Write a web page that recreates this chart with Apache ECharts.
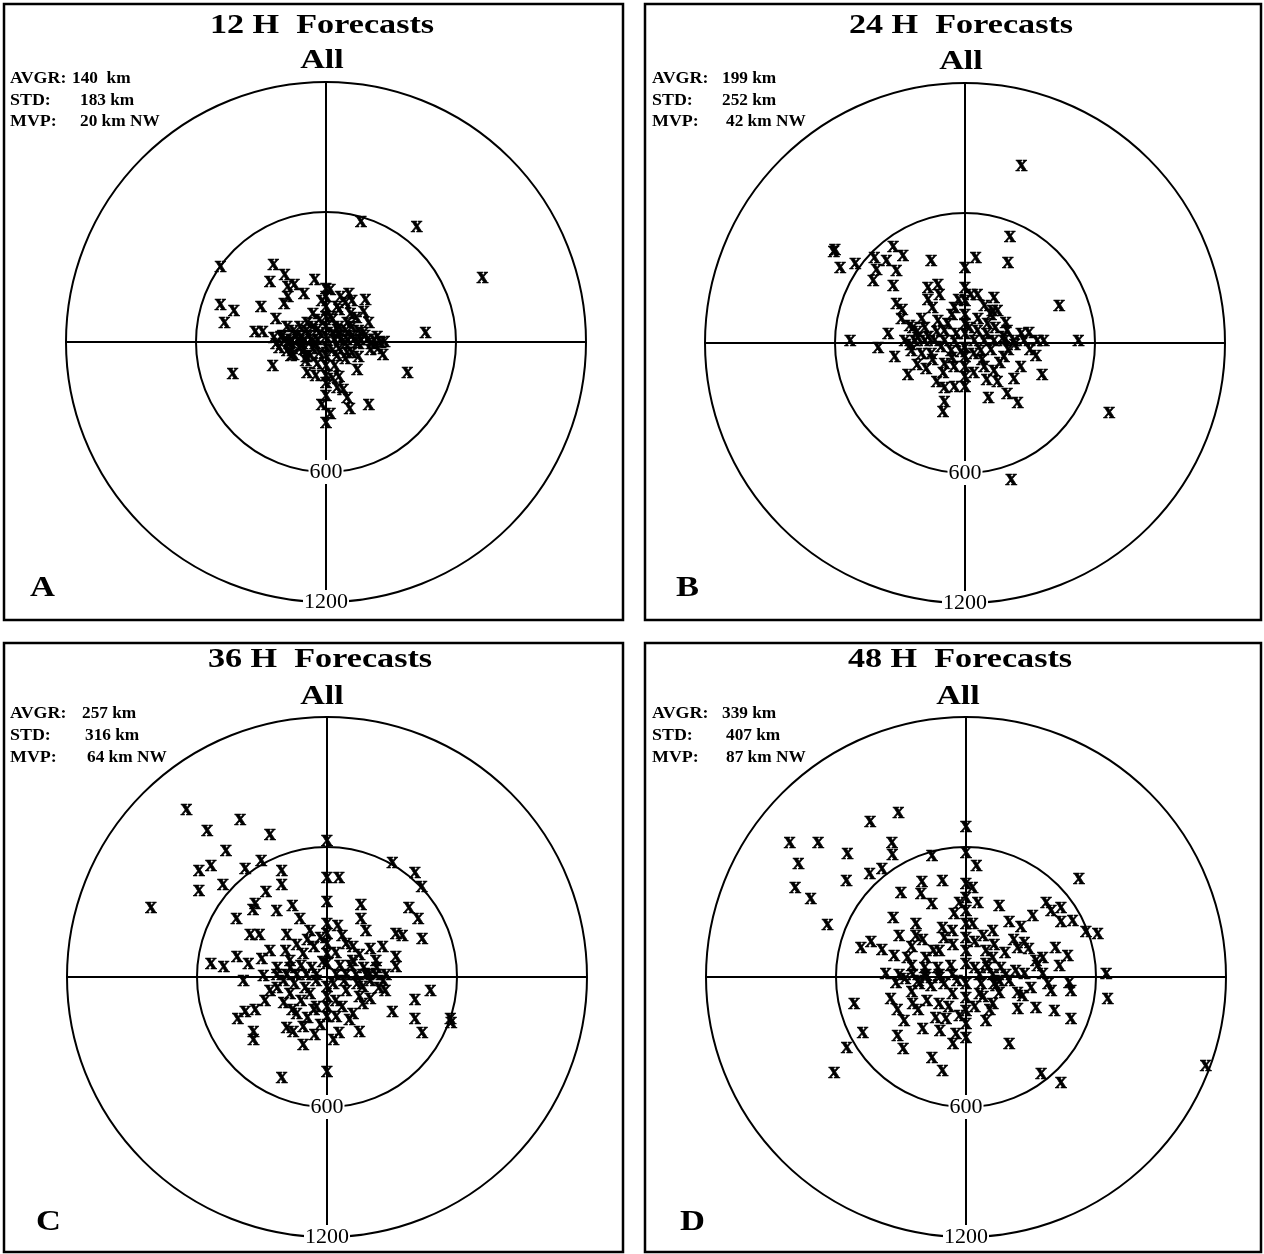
<!DOCTYPE html>
<html><head><meta charset="utf-8">
<script src="https://cdn.jsdelivr.net/npm/echarts@6/dist/echarts.min.js"></script>
<style>html,body{margin:0;padding:0;background:#fff}#c{width:1264px;height:1254px}</style>
</head><body><div id="c"></div>
<script>
// Panel titles and statistics
const panelTitles = ['12 H  Forecasts', '24 H  Forecasts', '36 H  Forecasts', '48 H  Forecasts'];
const panelLetters = ['A', 'B', 'C', 'D'];
const statLabels = ['AVGR:', 'STD:', 'MVP:'];
const statsA = ['140  km', '183 km', '20 km NW'];
const statsB = ['199 km', '252 km', '42 km NW'];
const statsC = ['257 km', '316 km', '64 km NW'];
const statsD = ['339 km', '407 km', '87 km NW'];
const ringValues = [600, 1200];

// Forecast position errors, [east km, north km]
const errorsA = [[162,543],[419,523],[722,286],[-487,337],[-242,344],[-259,268],[-190,298],[-52,278],[-177,245],[-147,252],
[-101,214],[-177,199],[-487,161],[-425,133],[-468,80],[-300,153],[-193,165],[-231,95],[-327,38],[-292,38],
[459,31],[-430,-158],[-246,-122],[376,-153],[263,-69],[251,-15],[182,184],[174,130],[106,214],[67,199],
[197,76],[144,-138],[197,-298],[110,-321],[98,-268],[52,-222],[0,-382],[0,-260],[0,-199],[-86,-153],
[-47,-168],[-93,-99],[-162,-76],[-216,-38],[-208,15],
[0,237],[0,199],[0,153],[0,107],[0,61],[0,15],[0,-31],[0,-76],[0,-122],[0,-168],
[-193,0],[-162,0],[-131,0],[-101,0],[-70,0],[-40,0],[37,0],[67,0],[98,0],[128,0],[159,0],[190,0],[220,0],
[52,153],[98,76],[-86,76],[-40,46],[52,46],[98,-61],[-101,-46],[-162,-15],[174,31],[205,-46],[236,15],[52,-76],[-70,-76],[21,107],[113,122],[144,-15],[-116,15],
[-200,20],[-170,-20],[-140,20],[-110,-20],[-80,20],[-50,-20],[60,20],[90,-20],[120,20],[150,-20],[180,20],[210,-20],
[-180,60],[-150,40],[-120,60],[-90,40],[-60,60],[-30,30],[30,30],[60,60],[90,40],[120,60],[150,40],
[-180,-50],[-150,-70],[-120,-40],[-90,-80],[-60,-40],[-30,-60],[30,-50],[60,-40],[90,-90],[120,-60],[150,-80],
[-30,90],[30,90],[-60,120],[60,140],[90,170],[120,180],[140,100],[-20,180],[20,230],[40,-120],[-40,-110],
[30,-180],[60,-170],[80,-230],[-20,-300],[20,-340],[240,-40],[270,-10],[-230,-20],[-240,10]];

const errorsB = [[261,809],[208,481],[199,359],[50,385],[0,336],[-156,370],[435,160],[524,0],[363,0],[333,0],
[295,38],[328,-69],[356,-156],[257,-122],[226,-176],[195,-247],[244,-286],[108,-263],[666,-333],[214,-641],
[-102,-328],[-95,-282],[-95,-217],[-49,-214],[0,-214],[0,-168],[-263,-156],[-179,-130],[-324,-76],[-400,-31],
[-354,31],[-530,0],[-606,412],[-600,420],[-576,336],[-507,354],[-418,385],[-362,370],[-331,435],[-286,394],[-316,324],
[-408,328],[-423,278],[-331,255],[-316,171],[-290,145],[-293,99],[-255,69],[-171,244],[-125,260],[-171,191],
[-118,214],[27,214],[58,214],[134,199],[127,137],[188,84],[195,46],[104,76],[-49,153],[-125,92],[-186,61],
[0,244],[0,183],[0,122],[0,76],[0,31],[0,-31],[0,-76],[0,-122],
[-278,0],[-232,0],[-186,0],[-140,0],[-95,0],[-49,0],[43,0],[89,0],[134,0],[180,0],[226,0],[272,0],
[-95,46],[58,46],[-64,-46],[73,-46],[89,-122],[134,-137],[180,-76],[-156,-61],[-247,-46],[-217,15],[-95,-107],
[-250,-20],[-220,40],[-200,-60],[-170,20],[-150,-90],[-130,40],[-110,-30],[-80,80],[-60,-80],[-40,30],
[-20,-50],[20,60],[40,-60],[60,100],[80,-90],[100,30],[120,-40],[140,60],[160,-100],[180,20],
[200,-40],[120,120],[90,160],[150,140],[-60,120],[-30,190],[-200,100],[-240,60],[-150,150],[-100,-150],
[-50,-120],[40,-150],[100,-180],[150,-190],[-130,-190],[-220,-110],[230,-20],[260,30],[300,-40]];

const errorsC = [[-648,760],[-400,715],[-553,664],[-263,646],[-466,573],[-591,478],[-535,501],[-377,489],[-304,524],[-591,387],
[-480,414],[-812,307],[-209,481],[-209,417],[0,619],[0,447],[55,447],[0,336],[302,516],[406,470],
[437,405],[-281,383],[-331,328],[-342,302],[-418,257],[-232,295],[-159,318],[-125,257],[-354,185],[-312,185],
[-186,185],[157,325],[157,257],[180,203],[50,226],[379,310],[421,260],[318,188],[348,180],[440,165],
[257,127],[318,81],[318,35],[-263,111],[-301,73],[-362,50],[-415,81],[-476,35],[-535,50],[-385,-29],
[-293,-3],[269,-75],[478,-72],[406,-115],[302,-171],[406,-202],[440,-270],[570,-202],[574,-224],[150,-263],
[55,-270],[104,-209],[165,-133],[-110,-324],[-186,-247],[-156,-263],[-57,-278],[-339,-263],[-339,-301],[-412,-202],
[-377,-171],[-331,-163],[-286,-118],[-263,-72],[-209,-476],[0,-446],[0,-194],
[0,234],[0,188],[0,142],[0,96],[0,50],[0,-57],[0,-102],[0,-148],
[-232,0],[-186,0],[-140,0],[-95,0],[-49,0],[43,0],[89,0],[134,0],[180,0],[226,0],[272,0],
[-79,203],[89,142],[-110,96],[119,66],[-171,66],[-79,-87],[89,-72],[-171,-87],[-49,-148],[165,-57],[226,66],[-140,-179],[43,-194],[196,5],
[-230,30],[-200,-30],[-170,30],[-150,-40],[-120,40],[-100,-60],[-70,30],[-50,-30],[-20,60],[30,-40],
[60,40],[80,-30],[110,40],[140,-40],[170,30],[200,-30],[230,30],[260,-30],[-60,130],[-30,170],
[40,100],[70,180],[120,130],[150,90],[200,120],[-140,140],[-90,160],[-190,110],[-230,-60],[-200,-130],
[-160,-160],[-120,-120],[-90,-200],[-60,-160],[-30,-230],[40,-120],[70,-150],[120,-180],[150,-100],[200,-110],
[240,-60],[-110,-240],[30,-300]];

const errorsD = [[-554,1081],[-311,747],[-442,708],[-813,611],[-682,611],[-773,511],[-788,403],[-716,350],[-639,231],[-547,557],
[-551,434],[-342,607],[-339,554],[-388,488],[-444,465],[0,681],[0,565],[49,504],[-157,550],[521,442],
[0,419],[54,334],[154,316],[-108,434],[-203,427],[-208,373],[-157,326],[-300,380],[-336,265],[-231,234],
[-231,180],[-308,180],[-54,280],[-108,216],[370,334],[439,311],[308,273],[393,296],[493,249],[439,246],
[554,196],[608,191],[200,246],[254,219],[123,203],[270,149],[239,126],[413,126],[470,88],[354,80],
[323,65],[431,42],[647,3],[654,-112],[477,-35],[485,-74],[393,-74],[354,3],[270,3],[239,-82],
[262,-97],[239,-159],[323,-151],[408,-166],[485,-205],[92,-213],[200,-317],[123,-136],[154,-82],[1106,-420],
[347,-459],[439,-497],[-516,-136],[-477,-266],[-550,-336],[-608,-451],[-485,126],[-439,154],[-388,114],[-331,88],
[-270,80],[-370,3],[-323,-35],[-347,-112],[-316,-163],[-285,-213],[-316,-282],[-290,-343],[-200,-251],[-157,-382],
[-108,-444],[-46,-274],[-92,-205],[-246,-136],[-216,-43],[-185,80],[-123,111],
[0,357],[0,296],[0,234],[0,172],[0,111],[0,49],[0,-43],[0,-105],[0,-166],[0,-228],[0,-290],
[-308,0],[-246,0],[-185,0],[-123,0],[-62,0],[62,0],[123,0],[185,0],
[92,111],[92,49],[154,-28],[-123,-12],[-185,-12],[-62,-89],[-123,-136],[62,-89],[123,80],[-62,203],[31,234],
[-280,-20],[-250,40],[-220,-30],[-190,30],[-160,-50],[-130,30],[-100,-40],[-70,40],[-40,-30],[40,30],
[70,-40],[100,30],[130,-40],[160,30],[200,-30],[230,20],[-250,-80],[-220,-160],[-180,-120],[-140,-200],
[-120,-260],[-80,-150],[-60,-320],[-30,-190],[40,-150],[80,-100],[110,-160],[140,-50],[-250,130],[-200,160],
[-150,110],[-100,170],[-60,140],[40,150],[80,180],[130,140],[180,100],[220,160],[290,120],[330,40],
[380,-40],[300,-60],[-30,330],[30,400]];

const allErrors = [errorsA, errorsB, errorsC, errorsD];
const allStats = [statsA, statsB, statsC, statsD];

// Layout (pixels)
const layout = [
  {box:[4,4,619,616], center:[326,342], title:[322,26], sub:[322,61], statX:10, valX:[72,80,80], statY:[79,101,122], letter:[30,588]},
  {box:[645,4,616,616], center:[965,343], title:[961,26], sub:[961,62], statX:652, valX:[722,722,726], statY:[79,101,122], letter:[676,588]},
  {box:[4,643,619,609], center:[327,977], title:[320,660], sub:[322,697], statX:10, valX:[82,85,87], statY:[714,736,758], letter:[36,1222]},
  {box:[645,643,616,609], center:[966,977], title:[960,660], sub:[958,697], statX:652, valX:[722,726,726], statY:[714,736,758], letter:[680,1222]}
];
const RADIUS_PX = 260;
const SERIF = '"Liberation Serif", "Times New Roman", serif';

function toPolar(p) {
  const r = Math.sqrt(p[0] * p[0] + p[1] * p[1]);
  let a = Math.atan2(p[1], p[0]) * 180 / Math.PI;
  if (a < 0) a += 360;
  return [r, a];
}

const polar = [], angleAxis = [], radiusAxis = [], series = [], graphic = [];
layout.forEach((L, i) => {
  polar.push({center: L.center, radius: RADIUS_PX});
  angleAxis.push({
    polarIndex: i, type: 'value', min: 0, max: 360, interval: 90, startAngle: 0, clockwise: false,
    axisLine: {show: false}, axisTick: {show: false}, axisLabel: {show: false},
    splitLine: {show: true, lineStyle: {color: '#000', width: 2}}
  });
  radiusAxis.push({
    polarIndex: i, type: 'value', min: 0, max: 1200, interval: 600,
    axisLine: {show: false}, axisTick: {show: false}, axisLabel: {show: false},
    splitLine: {show: true, lineStyle: {color: '#000', width: 2}}
  });
  series.push({
    type: 'scatter', coordinateSystem: 'polar', polarIndex: i,
    symbol: 'circle', symbolSize: 2, itemStyle: {color: 'rgba(0,0,0,0)'},
    silent: true, animation: false,
    data: allErrors[i].map(toPolar),
    label: {show: true, position: 'inside', formatter: 'x', color: '#000',
      textBorderColor: '#000', textBorderWidth: 0.7, opacity: 1,
      fontFamily: SERIF, fontWeight: 'bold', fontSize: 23, offset: [0, -3]},
    z: 5
  });
  series.push({
    type: 'scatter', coordinateSystem: 'polar', polarIndex: i,
    symbol: 'circle', symbolSize: 2, itemStyle: {color: 'rgba(0,0,0,0)'},
    silent: true, animation: false,
    data: ringValues.map(v => [v, 270]),
    label: {show: true, position: 'inside', formatter: p => String(p.value[0]), color: '#000',
      textBorderWidth: 0, opacity: 1,
      fontFamily: SERIF, fontSize: 22, backgroundColor: '#fff', padding: [1, 1]},
    z: 6
  });
  graphic.push({type: 'rect', shape: {x: L.box[0], y: L.box[1], width: L.box[2], height: L.box[3]},
    style: {fill: 'none', stroke: '#000', lineWidth: 2.5}, z: 10});
  graphic.push({type: 'text', x: L.title[0], y: L.title[1], scaleX: 1.22,
    style: {text: panelTitles[i], font: 'bold 28px ' + SERIF, fill: '#000', textAlign: 'center', textVerticalAlign: 'middle'}, z: 10});
  graphic.push({type: 'text', x: L.sub[0], y: L.sub[1], scaleX: 1.22,
    style: {text: 'All', font: 'bold 28px ' + SERIF, fill: '#000', textAlign: 'center', textVerticalAlign: 'middle'}, z: 10});
  statLabels.forEach((s, k) => {
    graphic.push({type: 'text', x: L.statX, y: L.statY[k], scaleX: 1.12,
      style: {text: s, font: 'bold 16px ' + SERIF, fill: '#000', textAlign: 'left', textVerticalAlign: 'middle'}, z: 10});
    graphic.push({type: 'text', x: L.valX[k], y: L.statY[k], scaleX: 1.08,
      style: {text: allStats[i][k], font: 'bold 16px ' + SERIF, fill: '#000', textAlign: 'left', textVerticalAlign: 'middle'}, z: 10});
  });
  graphic.push({type: 'text', x: L.letter[0], y: L.letter[1], scaleX: 1.15,
    style: {text: panelLetters[i], font: 'bold 30px ' + SERIF, fill: '#000', textAlign: 'left', textVerticalAlign: 'middle'}, z: 10});
});

const chart = echarts.init(document.getElementById('c'), null, {renderer: 'canvas'});
chart.setOption({
  backgroundColor: '#fff',
  animation: false,
  polar, angleAxis, radiusAxis, series, graphic
});
</script>
</body></html>
